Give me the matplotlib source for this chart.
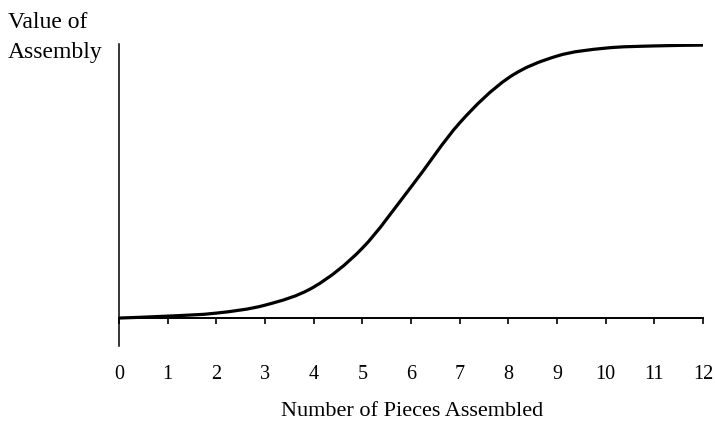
import numpy as np
import matplotlib
matplotlib.use("Agg")
import matplotlib.pyplot as plt
from matplotlib.path import Path
from matplotlib.patches import PathPatch

# data (value in % of the full assembly value)
pieces = [0, 1, 2, 3, 4, 5, 6, 7, 8, 9, 10, 11, 12]
value = [0, 0.7, 1.8, 4.7, 11.3, 25.5, 47.8, 71.2, 87.6, 95.6, 98.5, 99.3, 99.6]
xticks = list(range(0, 13))

plt.rcParams['font.family'] = ['Liberation Serif', 'DejaVu Serif']

fig = plt.figure(figsize=(7.15, 4.26), dpi=100)
ax = fig.add_axes([0.1664, 0.1878, 0.8168, 0.7089])

# smoothed line like a spreadsheet chart: bezier segments through the points
x = np.array(pieces, float)
y = np.array(value, float)
verts = [(x[0], y[0])]
codes = [Path.MOVETO]
n = len(x)
for i in range(n - 1):
    x0, y0 = (x[i - 1], y[i - 1]) if i > 0 else (x[i], y[i])
    x3, y3 = (x[i + 2], y[i + 2]) if i + 2 < n else (x[i + 1], y[i + 1])
    c1 = (x[i] + (x[i + 1] - x0) / 6, y[i] + (y[i + 1] - y0) / 6)
    c2 = (x[i + 1] - (x3 - x[i]) / 6, y[i + 1] - (y3 - y[i]) / 6)
    verts += [c1, c2, (x[i + 1], y[i + 1])]
    codes += [Path.CURVE4] * 3
ax.add_patch(PathPatch(Path(verts, codes), fill=False, lw=2.3, color='black',
                       capstyle='butt', zorder=3))

ax.set_xlim(0, 12)
ax.set_ylim(-10.2, 100)

ax.spines['top'].set_visible(False)
ax.spines['right'].set_visible(False)
ax.spines['bottom'].set_position(('data', 0))
ax.spines['bottom'].set_linewidth(1.4)
ax.spines['left'].set_linewidth(1.1)

ax.set_yticks([])
ax.set_xticks(xticks)
ax.tick_params(axis='x', direction='out', length=4, width=1.2,
               labelsize=14.5, pad=30)

# y title in two lines at the top left
fig.text(0.011, 0.934, "Value of", fontsize=17, ha='left', va='baseline')
fig.text(0.011, 0.864, "Assembly", fontsize=17, ha='left', va='baseline')
fig.text(0.576, 0.0235, "Number of Pieces Assembled", fontsize=16,
         ha='center', va='baseline')

fig.savefig('out.png', dpi=100)
